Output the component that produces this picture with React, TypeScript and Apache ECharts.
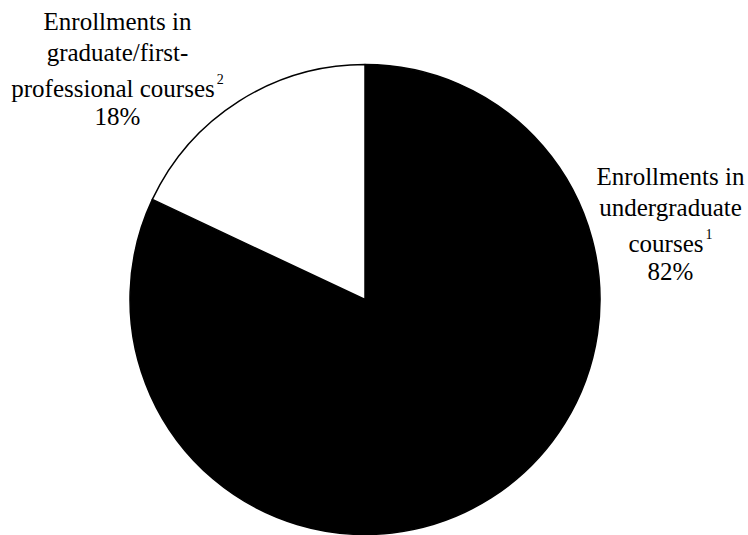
import React, { useEffect, useRef } from "react";
import * as echarts from "echarts";

const categories = ["Enrollments in undergraduate courses", "Enrollments in graduate/first-professional courses"];
const values = [82, 18];
const colors = ["#000000", "#ffffff"];
const labelLines = [
  ["Enrollments in", "undergraduate", "courses", "82%"],
  ["Enrollments in", "graduate/first-", "professional courses", "18%"],
];
const labelSups = ["1", "2"];

const FONT = "serif";
const MAIN_SIZE = 25;
const SUP_SIZE = 14;
const LABEL_POS = [
  { cx: 670.5, b0: 187 },
  { cx: 117.5, b0: 32 },
];
const LINE_OFFSETS = [0, 31, 67, 95];

function measure(text: string, size: number): number {
  const c = document.createElement("canvas").getContext("2d");
  if (!c) return text.length * size * 0.45;
  c.font = `${size}px ${FONT}`;
  return c.measureText(text).width;
}

export default function App() {
  const ref = useRef<HTMLDivElement>(null);
  useEffect(() => {
    if (!ref.current) return;
    const chart = echarts.init(ref.current, null, { renderer: "svg" });

    const graphics: any[] = [];
    labelLines.forEach((lines, i) => {
      const { cx, b0 } = LABEL_POS[i];
      lines.forEach((line, j) => {
        const baseline = b0 + LINE_OFFSETS[j];
        const wMain = measure(line, MAIN_SIZE);
        const sup = j === 2 ? labelSups[i] : "";
        const wSup = sup ? measure(sup, SUP_SIZE) + 2 : 0;
        const left = cx - (wMain + wSup) / 2;
        graphics.push({
          type: "text",
          x: left,
          y: baseline - 22.8,
          style: { text: line, fontSize: MAIN_SIZE, fontFamily: FONT, fill: "#000" },
        });
        if (sup) {
          graphics.push({
            type: "text",
            x: left + wMain + 2,
            y: baseline - 26.7,
            style: { text: sup, fontSize: SUP_SIZE, fontFamily: FONT, fill: "#000" },
          });
        }
      });
    });

    chart.setOption({
      animation: false,
      backgroundColor: "#ffffff",
      textStyle: { fontFamily: FONT },
      graphic: graphics,
      series: [
        {
          type: "pie",
          center: [365, 299.5],
          radius: 235,
          startAngle: 90,
          clockwise: true,
          silent: true,
          emphasis: { disabled: true },
          itemStyle: { borderColor: "#000", borderWidth: 1.5 },
          label: { show: false },
          labelLine: { show: false },
          data: categories.map((c, i) => ({
            name: c,
            value: values[i],
            itemStyle: { color: colors[i] },
          })),
        },
      ],
    });
    return () => chart.dispose();
  }, []);
  return (
    <div
      ref={ref}
      style={{ position: "fixed", left: 0, top: 0, width: 748, height: 535 }}
    />
  );
}
